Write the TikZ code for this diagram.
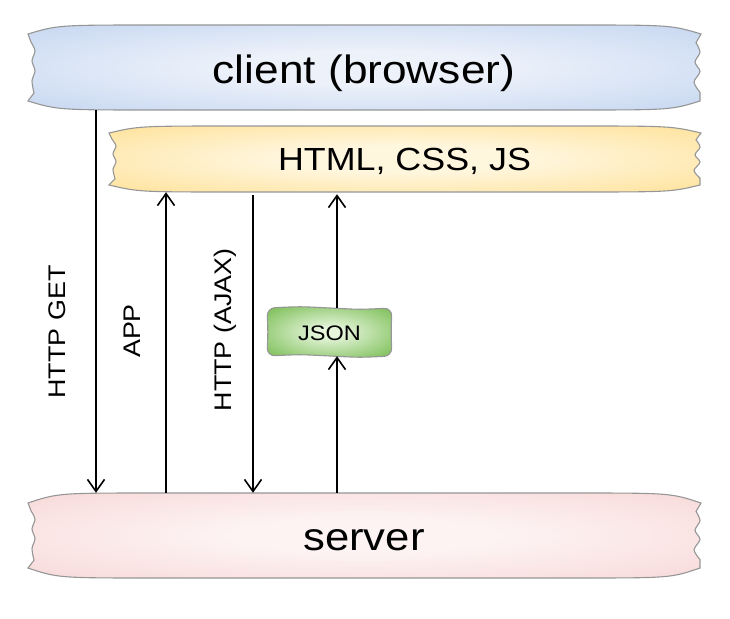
\documentclass[tikz,border=0pt]{standalone}
\usepackage{fontspec}
\setmainfont{Liberation Sans}[FakeStretch=1.12]
\usetikzlibrary{arrows.meta}
\definecolor{clientedge}{RGB}{170,196,234}
\definecolor{clientmid}{RGB}{236,241,250}
\definecolor{htmledge}{RGB}{255,212,104}
\definecolor{htmlmid}{RGB}{255,246,222}
\definecolor{serveredge}{RGB}{245,198,198}
\definecolor{servermid}{RGB}{253,243,243}
\definecolor{jsonedge}{RGB}{96,176,52}
\definecolor{jsonmid}{RGB}{232,246,222}
\definecolor{bordergray}{RGB}{150,150,150}
\pgfdeclareradialshading{clientshade}{\pgfpoint{0bp}{0bp}}{color(0bp)=(clientmid);color(10bp)=(clientmid);color(55bp)=(clientedge);color(100bp)=(clientedge)}
\pgfdeclareradialshading{htmlshade}{\pgfpoint{0bp}{0bp}}{color(0bp)=(htmlmid);color(10bp)=(htmlmid);color(55bp)=(htmledge);color(100bp)=(htmledge)}
\pgfdeclareradialshading{servershade}{\pgfpoint{0bp}{0bp}}{color(0bp)=(servermid);color(10bp)=(servermid);color(55bp)=(serveredge);color(100bp)=(serveredge)}
\pgfdeclareradialshading{jsonshade}{\pgfpoint{0bp}{0bp}}{color(0bp)=(jsonmid);color(4bp)=(jsonmid);color(42bp)=(jsonedge);color(100bp)=(jsonedge)}
% torn box: #1 style, #2 x0, #3 y0, #4 x1, #5 y1, #6 corner drop
\newcommand{\tornshape}[6]{%
  \pgfmathsetmacro\txa{#2}\pgfmathsetmacro\tya{#3}%
  \pgfmathsetmacro\txb{#4}\pgfmathsetmacro\tyb{#5}%
  \pgfmathsetmacro\tyc{#3+#6}\pgfmathsetmacro\tyd{#5-#6}%
  \pgfmathsetmacro\thh{\tyd-\tyc}%
  \path[#1] (\txa,\tyc) .. controls (\txa+30,\tya) .. (\txa+130,\tya)
    -- (\txb-130,\tya) .. controls (\txb-30,\tya) .. (\txb,\tyc)
    -- plot[smooth,tension=.5] coordinates {(\txb-5,\tyc+.13*\thh) (\txb-1,\tyc+.27*\thh) (\txb-6,\tyc+.42*\thh) (\txb-1,\tyc+.56*\thh) (\txb-7,\tyc+.72*\thh) (\txb-1,\tyc+.87*\thh)}
    -- (\txb-1,\tyd) .. controls (\txb-30,\tyb) .. (\txb-130,\tyb)
    -- (\txa+130,\tyb) .. controls (\txa+30,\tyb) .. (\txa,\tyd)
    -- plot[smooth,tension=.5] coordinates {(\txa+6,\tyd-.12*\thh) (\txa+4,\tyd-.3*\thh) (\txa+7,\tyd-.45*\thh) (\txa+4,\tyd-.6*\thh) (\txa+7,\tyd-.75*\thh) (\txa+3,\tyd-.88*\thh)}
    -- cycle;}
\begin{document}
\begin{tikzpicture}[x=1pt,y=-1pt,
  boxline/.style={draw=bordergray,line width=1.1pt},
  boxtext/.style={inner sep=0pt,text depth=0pt,align=center},
  arr/.style={line width=1.6pt,-{Straight Barb[length=12pt,width=17pt,line width=1.6pt]}},
  lbl/.style={rotate=90,anchor=base,inner sep=0pt,font=\fontsize{24}{26}\selectfont}]
\useasboundingbox (0,0) rectangle (730,618);
% shapes
\tornshape{boxline,shading=clientshade}{28}{25}{701}{110}{9}
\tornshape{boxline,shading=htmlshade}{109}{126}{701}{192}{7}
\tornshape{boxline,shading=servershade}{28}{493}{701}{578}{10}
\path[boxline,shading=jsonshade,rounded corners=8pt] (267,308) .. controls (300,306.5) .. (330,308) .. controls (360,309.5) .. (392,308) -- (391,332) -- (392,356) .. controls (360,357.5) .. (330,356) .. controls (300,354.5) .. (267,356) -- (268,332) -- cycle;
% nodes
\node[boxtext,minimum width=673pt,minimum height=85pt,text height=31pt,font=\fontsize{39.5}{40}\selectfont] (client) at (364,67.5) {client (browser)};
\node[boxtext,minimum width=592pt,minimum height=66pt,text height=22pt,font=\fontsize{32}{34}\selectfont] (html) at (404.5,159) {HTML, CSS, JS};
\node[boxtext,minimum width=673pt,minimum height=85pt,text height=30pt,font=\fontsize{39}{40}\selectfont] (server) at (364,535.5) {server};
\node[boxtext,minimum width=125pt,minimum height=48pt,text height=16pt,font=\fontsize{21}{22}\selectfont] (json) at (329.5,332) {JSON};
% connector columns
\coordinate (c1) at (96,0);
\coordinate (c2) at (166,0);
\coordinate (c3) at (253,0);
\coordinate (c4) at (337,0);
\draw[arr] (client.south -| c1) -- (server.north -| c1);
\draw[arr] (server.north -| c2) -- (html.south -| c2);
\draw[arr] ([yshift=-3pt]html.south -| c3) -- (server.north -| c3);
\draw[arr] (server.north -| c4) -- (json.south -| c4);
\draw[arr] (json.north -| c4) -- ([yshift=-2pt]html.south -| c4);
% labels
\node[lbl] (lget) at (65,332) {HTTP GET};
\node[lbl] (lapp) at (140,331) {APP};
\node[lbl] (lajax) at (231,330) {HTTP (AJAX)};
\end{tikzpicture}
\end{document}
